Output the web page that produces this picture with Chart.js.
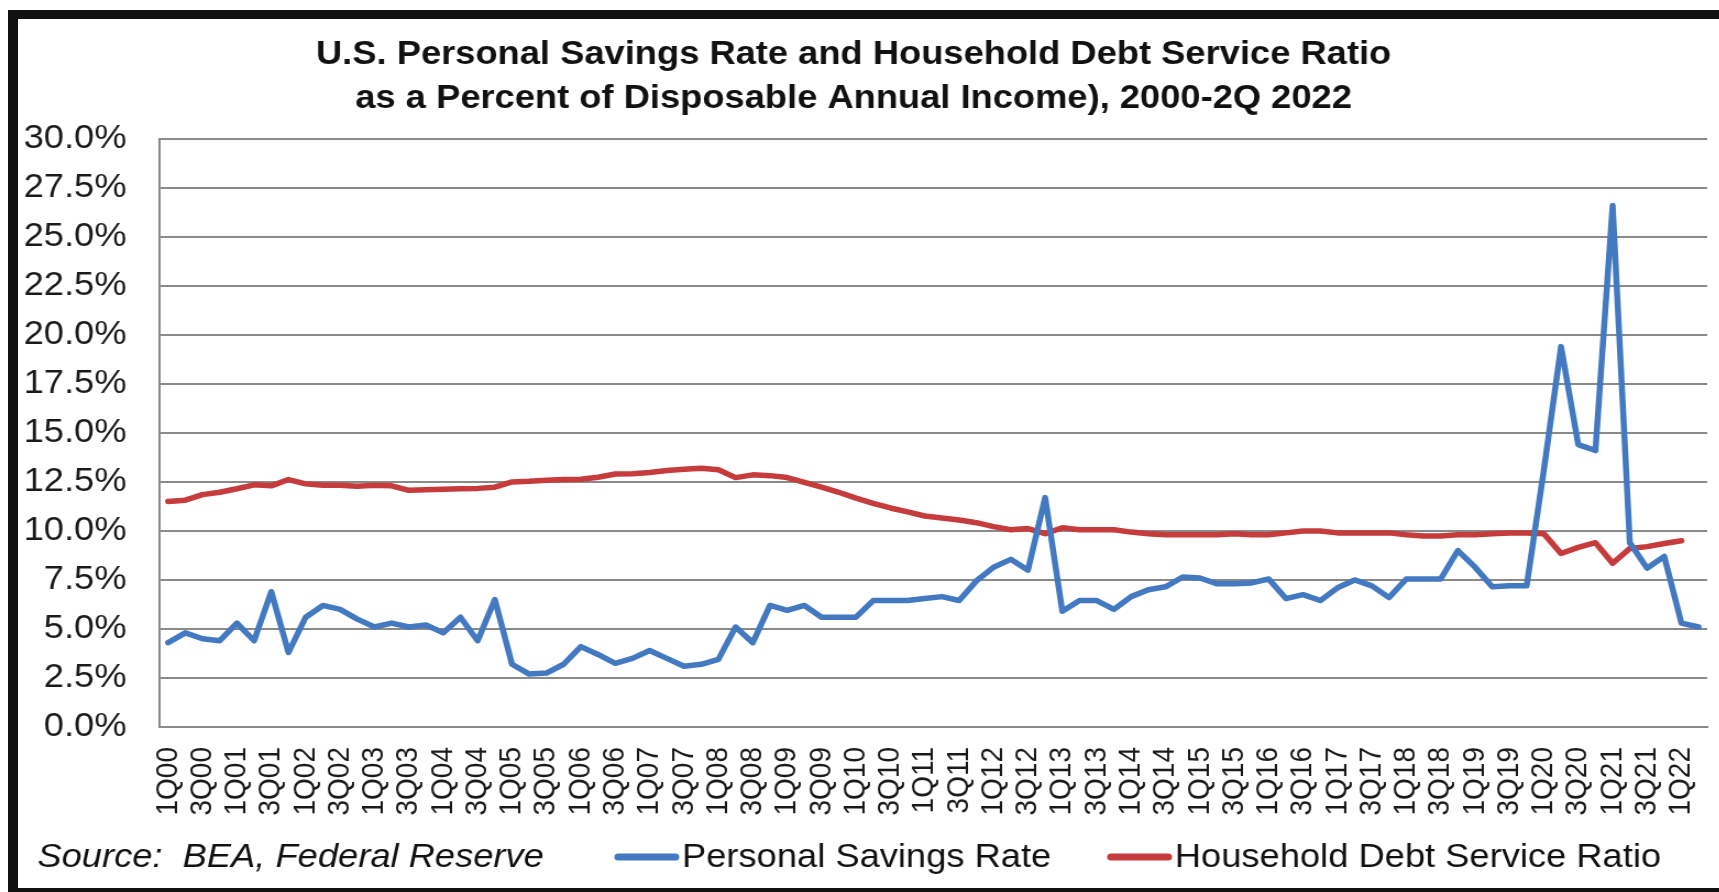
<!DOCTYPE html>
<html>
<head>
<meta charset="utf-8">
<title>U.S. Personal Savings Rate and Household Debt Service Ratio</title>
<script src="https://cdn.jsdelivr.net/npm/chart.js@4.4.0/dist/chart.umd.min.js"></script>
<style>
  html, body { margin: 0; padding: 0; background: #fff; overflow: hidden; }
  /* the source picture is stretched a little sideways, so the chart is too */
  #wrap { position: absolute; left: 0; top: 0; width: 1563px; height: 892px; transform: scaleX(1.1); transform-origin: 0 0; }
  #frame { position: absolute; left: 8px; top: 10px; width: 1800px; height: 887px; box-sizing: border-box;
           border-left: 10px solid #111; border-top: 9px solid #111; border-bottom: 9px solid #111; pointer-events: none; }
</style>
</head>
<body>
<div id="wrap"><canvas id="chart"></canvas></div>
<div id="frame"></div>
<script>
const quarters = [
    '1Q00', '2Q00', '3Q00', '4Q00', '1Q01', '2Q01', '3Q01', '4Q01',
    '1Q02', '2Q02', '3Q02', '4Q02', '1Q03', '2Q03', '3Q03', '4Q03',
    '1Q04', '2Q04', '3Q04', '4Q04', '1Q05', '2Q05', '3Q05', '4Q05',
    '1Q06', '2Q06', '3Q06', '4Q06', '1Q07', '2Q07', '3Q07', '4Q07',
    '1Q08', '2Q08', '3Q08', '4Q08', '1Q09', '2Q09', '3Q09', '4Q09',
    '1Q10', '2Q10', '3Q10', '4Q10', '1Q11', '2Q11', '3Q11', '4Q11',
    '1Q12', '2Q12', '3Q12', '4Q12', '1Q13', '2Q13', '3Q13', '4Q13',
    '1Q14', '2Q14', '3Q14', '4Q14', '1Q15', '2Q15', '3Q15', '4Q15',
    '1Q16', '2Q16', '3Q16', '4Q16', '1Q17', '2Q17', '3Q17', '4Q17',
    '1Q18', '2Q18', '3Q18', '4Q18', '1Q19', '2Q19', '3Q19', '4Q19',
    '1Q20', '2Q20', '3Q20', '4Q20', '1Q21', '2Q21', '3Q21', '4Q21',
    '1Q22', '2Q22'
];

// percent of disposable income
const savingsRate = [
    4.3, 4.8, 4.5, 4.4, 5.3, 4.4, 6.9, 3.8,
    5.6, 6.2, 6.0, 5.5, 5.1, 5.3, 5.1, 5.2,
    4.8, 5.6, 4.4, 6.5, 3.2, 2.7, 2.75, 3.2,
    4.1, 3.7, 3.25, 3.5, 3.9, 3.5, 3.1, 3.2,
    3.45, 5.1, 4.3, 6.2, 5.95, 6.2, 5.6, 5.6,
    5.6, 6.45, 6.45, 6.45, 6.55, 6.65, 6.45, 7.45,
    8.15, 8.55, 8.0, 11.7, 5.9, 6.45, 6.45, 6.0,
    6.65, 7.0, 7.15, 7.65, 7.6, 7.3, 7.3, 7.35,
    7.55, 6.55, 6.75, 6.45, 7.1, 7.5, 7.2, 6.6,
    7.55, 7.55, 7.55, 9.0, 8.15, 7.15, 7.2, 7.2,
    13.1, 19.4, 14.4, 14.1, 26.6, 9.4, 8.1, 8.7,
    5.3, 5.1
];

const debtService = [
    11.5, 11.57, 11.85, 11.97, 12.15, 12.35, 12.3, 12.62,
    12.4, 12.33, 12.33, 12.28, 12.33, 12.3, 12.07, 12.1,
    12.13, 12.15, 12.17, 12.23, 12.5, 12.53, 12.58, 12.62,
    12.64, 12.74, 12.9, 12.92, 12.98, 13.08, 13.15, 13.2,
    13.12, 12.72, 12.86, 12.82, 12.72, 12.47, 12.23, 11.97,
    11.67, 11.41, 11.17, 10.97, 10.76, 10.66, 10.56, 10.42,
    10.22, 10.06, 10.12, 9.86, 10.16, 10.06, 10.06, 10.06,
    9.94, 9.86, 9.8, 9.8, 9.8, 9.8, 9.86, 9.8,
    9.8, 9.9, 10.0, 10.0, 9.9, 9.9, 9.9, 9.9,
    9.8, 9.74, 9.74, 9.8, 9.8, 9.86, 9.9, 9.9,
    9.86, 8.85, 9.16, 9.4, 8.35, 9.1, 9.2, 9.36,
    9.5, null
];

const seriesNames = ['Personal Savings Rate', 'Household Debt Service Ratio'];
const seriesColors = ['#4279c0', '#c63b3b'];
const titleLines = [
    'U.S. Personal Savings Rate and Household Debt Service Ratio',
    'as a Percent of Disposable Annual Income), 2000-2Q 2022'
];
const sourceNote = 'Source:  BEA, Federal Reserve';

const FONT = '"Liberation Sans", Arial, sans-serif';
const GRID = '#8a8a8a';

// source note + legend share one row under the axis
const bottomRow = {
    id: 'bottomRow',
    afterDraw(chart) {
        const ctx = chart.ctx;
        const y = 858;
        ctx.save();
        ctx.textBaseline = 'middle';
        ctx.fillStyle = '#111';
        ctx.font = 'italic 33px ' + FONT;
        ctx.fillText(sourceNote, 34, y);
        ctx.font = '33px ' + FONT;
        const slots = [558, 1006];
        chart.data.datasets.forEach((ds, i) => {
            const x = slots[i];
            ctx.strokeStyle = ds.borderColor;
            ctx.lineWidth = 7;
            ctx.lineCap = 'round';
            ctx.beginPath();
            ctx.moveTo(x + 4, y - 1);
            ctx.lineTo(x + 56, y - 1);
            ctx.stroke();
            ctx.fillText(ds.label, x + 62, y);
        });
        ctx.restore();
    }
};

const ctx = document.getElementById('chart').getContext('2d');
new Chart(ctx, {
    type: 'line',
    data: {
        labels: quarters,
        datasets: [
            {
                label: seriesNames[0],
                data: savingsRate,
                borderColor: seriesColors[0],
                backgroundColor: seriesColors[0],
                borderWidth: 5.5,
                pointRadius: 0,
                tension: 0,
                borderJoinStyle: 'round',
                borderCapStyle: 'round'
            },
            {
                label: seriesNames[1],
                data: debtService,
                borderColor: seriesColors[1],
                backgroundColor: seriesColors[1],
                borderWidth: 5.5,
                pointRadius: 0,
                tension: 0,
                borderJoinStyle: 'round',
                borderCapStyle: 'round'
            }
        ]
    },
    options: {
        responsive: true,
        maintainAspectRatio: false,
        animation: false,
        devicePixelRatio: 1,
        layout: { padding: { left: 0, right: 11, top: 0, bottom: 62 } },
        plugins: {
            legend: { display: false },
            tooltip: { enabled: false },
            title: {
                display: true,
                text: titleLines,
                color: '#111',
                font: { family: FONT, size: 33, weight: 'bold', lineHeight: 1.33 },
                padding: { top: 33, bottom: 18 }
            }
        },
        scales: {
            x: {
                offset: true,
                grid: { display: false, drawTicks: false },
                border: { display: true, color: GRID, width: 2 },
                afterFit: (scale) => {
                    scale.height = 103;
                    scale.paddingLeft = 0;
                    scale.paddingRight = 0;
                },
                ticks: {
                    autoSkip: false,
                    minRotation: 90,
                    maxRotation: 90,
                    padding: 20,
                    color: '#1a1a1a',
                    font: { family: FONT, size: 28 },
                    callback: function (val, index) {
                        return index % 2 === 0 ? this.getLabelForValue(val) : '';
                    }
                }
            },
            y: {
                min: 0,
                max: 30,
                grid: { color: GRID, lineWidth: 2, drawTicks: false },
                border: { display: true, color: GRID, width: 2 },
                afterFit: (scale) => {
                    scale.width = 145;
                    scale.paddingTop = 0;
                    scale.paddingBottom = 0;
                },
                ticks: {
                    stepSize: 2.5,
                    padding: 30,
                    color: '#1a1a1a',
                    font: { family: FONT, size: 33 },
                    callback: (v) => v.toFixed(1) + '%'
                }
            }
        }
    },
    plugins: [bottomRow]
});
</script>
</body>
</html>
